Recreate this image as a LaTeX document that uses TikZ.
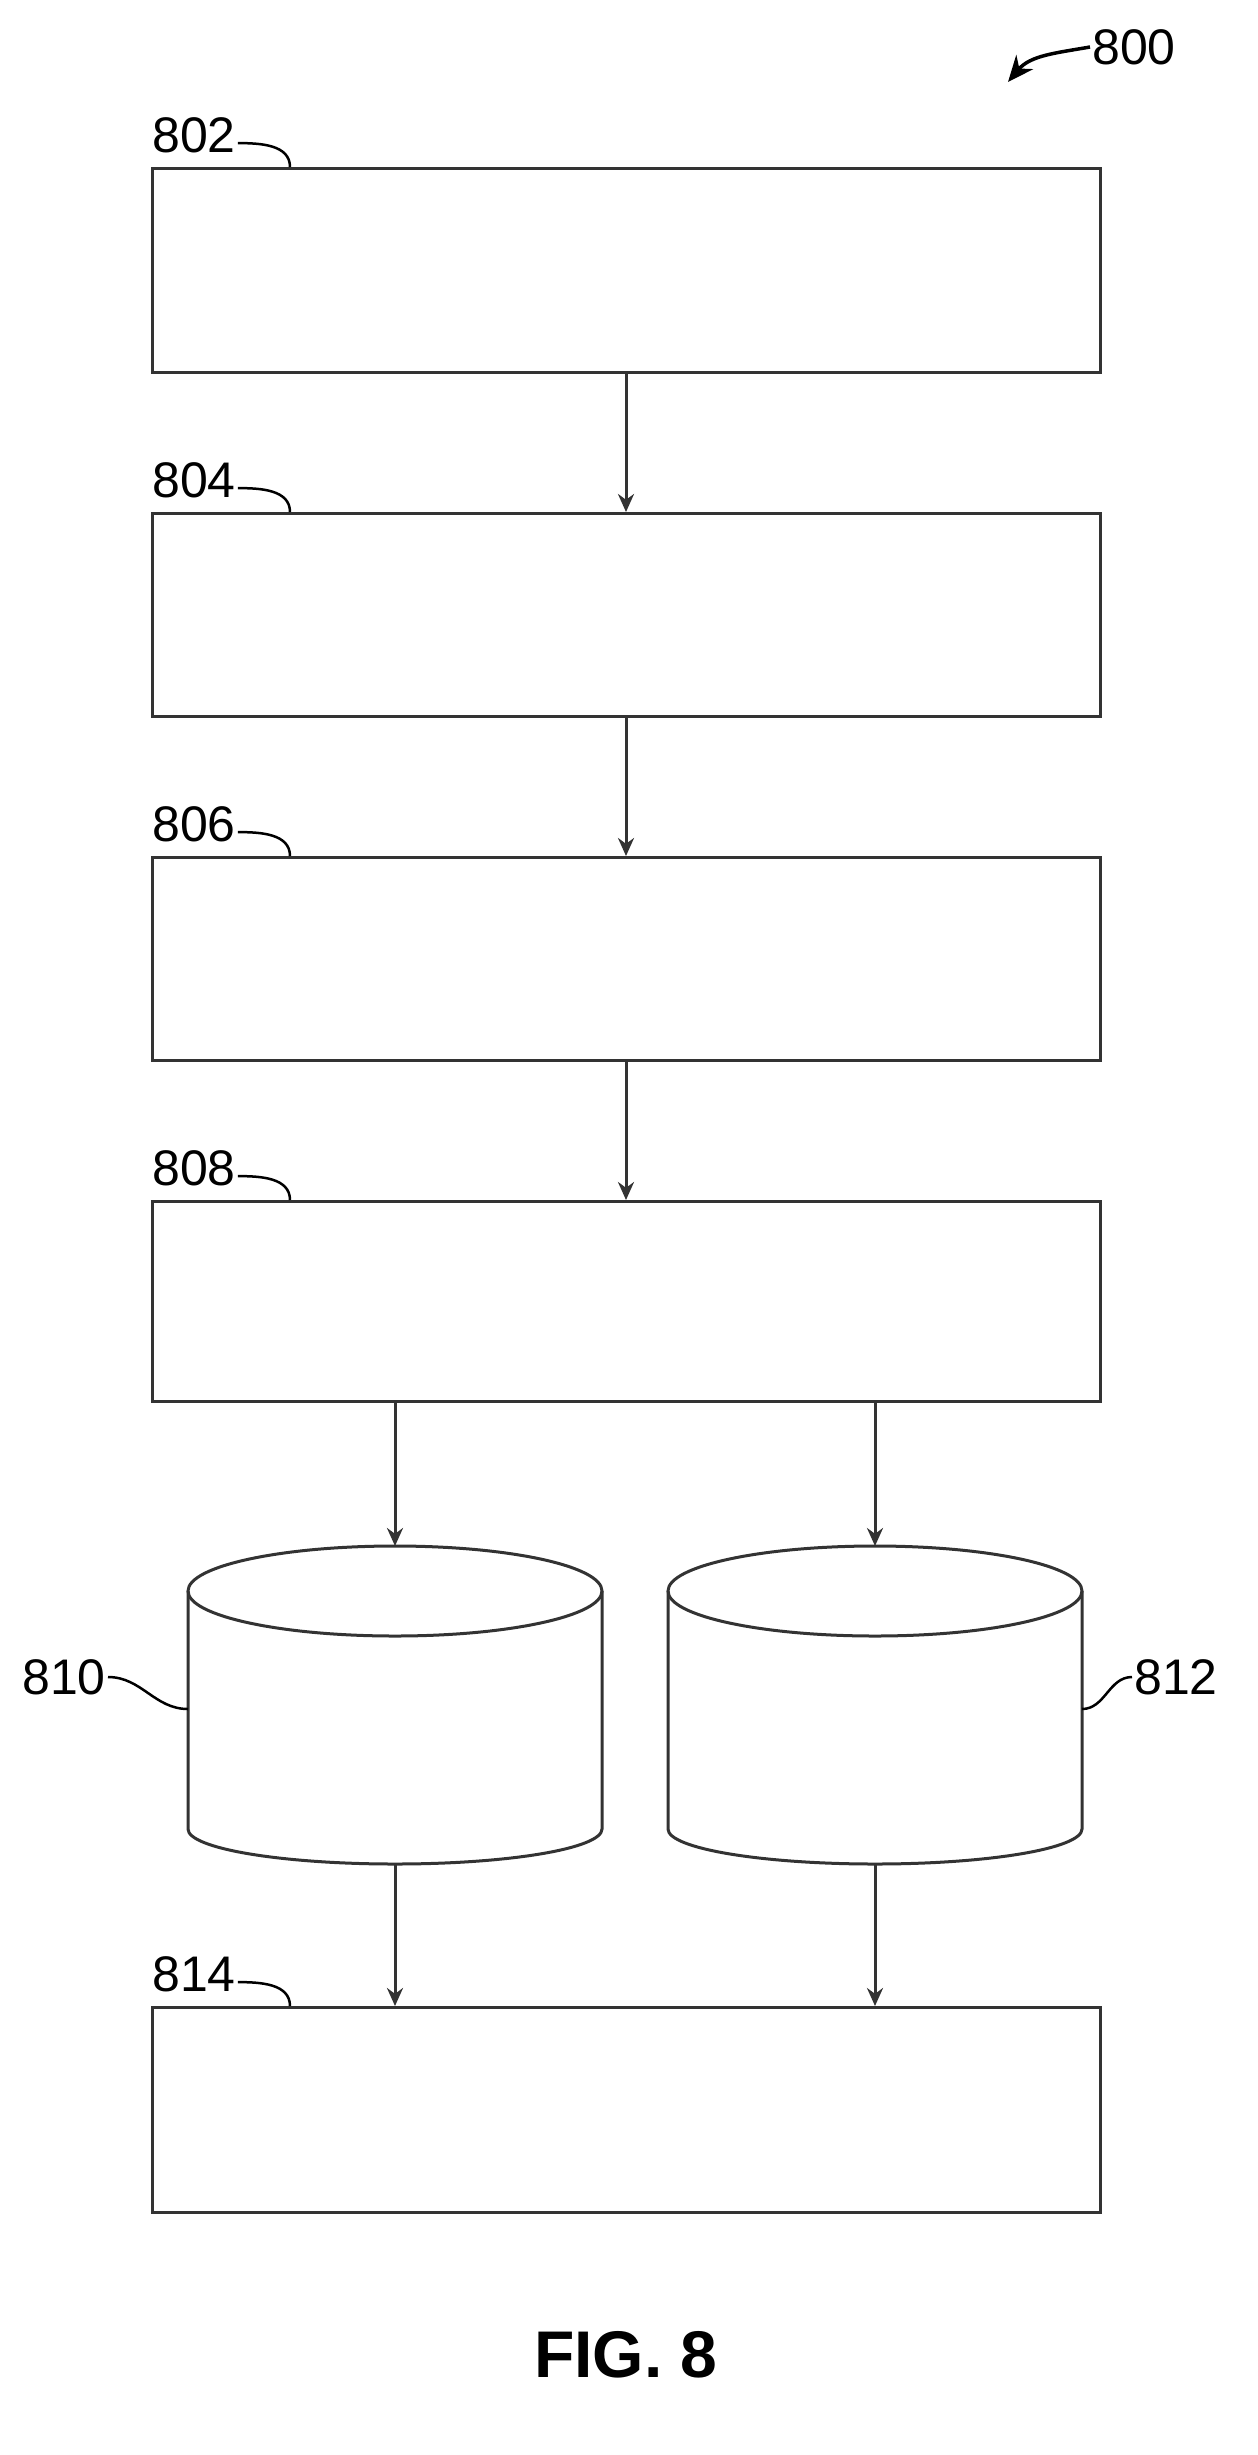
\documentclass[tikz,border=0pt]{standalone}
\usepackage{fontspec}
\setmainfont{Liberation Sans}
\usetikzlibrary{arrows.meta}
\begin{document}
\begin{tikzpicture}[x=1pt,y=-1pt,
  ln/.style={draw=black!80,line width=3pt},
  boxn/.style={ln,rectangle,minimum width=948pt,minimum height=#1,anchor=north,inner sep=0pt},
  arr/.style={ln,-{Stealth[length=18pt,width=16pt]}},
  lbl/.style={font=\fontsize{50}{50}\selectfont,inner sep=2pt},
  lead/.style={draw=black,line width=2.5pt}]
\useasboundingbox (0,0) rectangle (1258,2455);
\node[boxn=204pt] (b802) at (626,167) {};
\node[boxn=203pt] (b804) at (626,512) {};
\node[boxn=203pt] (b806) at (626,856) {};
\node[boxn=200pt] (b808) at (626,1200) {};
\node[boxn=205pt] (b814) at (626,2006) {};
% cylinders
\foreach \n/\cx in {810/395,812/875}{
  \draw[ln,fill=white] (\cx-207,1591) -- (\cx-207,1829) arc[start angle=180,end angle=0,x radius=207,y radius=35] -- (\cx+207,1591);
  \draw[ln] (\cx,1591) ellipse[x radius=207,y radius=45];
  \node[inner sep=0pt,minimum width=414pt,minimum height=318pt,anchor=north] (c\n) at (\cx,1546) {};
}
\draw[arr] (b802.south) -- (b804.north);
\draw[arr] (b804.south) -- (b806.north);
\draw[arr] (b806.south) -- (b808.north);
\draw[arr] (b808.south -| c810.north) -- (c810.north);
\draw[arr] (b808.south -| c812.north) -- (c812.north);
\draw[arr] (c810.south) -- (b814.north -| c810.south);
\draw[arr] (c812.south) -- (b814.north -| c812.south);
% labels
\foreach \n/\y in {802/167,804/512,806/856,808/1200,814/2006}{
  \node[lbl,anchor=south west] (l\n) at (150,\y-12) {\n};
  \draw[lead] ([yshift=-8pt]l\n.east) to[out=0,in=90] (290,\y);
}
\node[lbl,anchor=east] (l810) at (108,1677) {810};
\draw[lead] (l810.east) to[out=0,in=180] (188,1709);
\node[lbl,anchor=west] (l812) at (1132,1677) {812};
\draw[lead] (1082,1709) to[out=0,in=180] (l812.west);
\node[lbl,anchor=west] (l800) at (1090,47) {800};
\coordinate (t800) at (1008,82);
\draw[line width=3.5pt,-{Stealth[length=26pt,width=22pt]}] (l800.west) to[out=190,in=50] (t800);
\node[font=\bfseries\fontsize{66}{66}\selectfont] (fig) at (626,2355) {FIG. 8};
\end{tikzpicture}
\end{document}
